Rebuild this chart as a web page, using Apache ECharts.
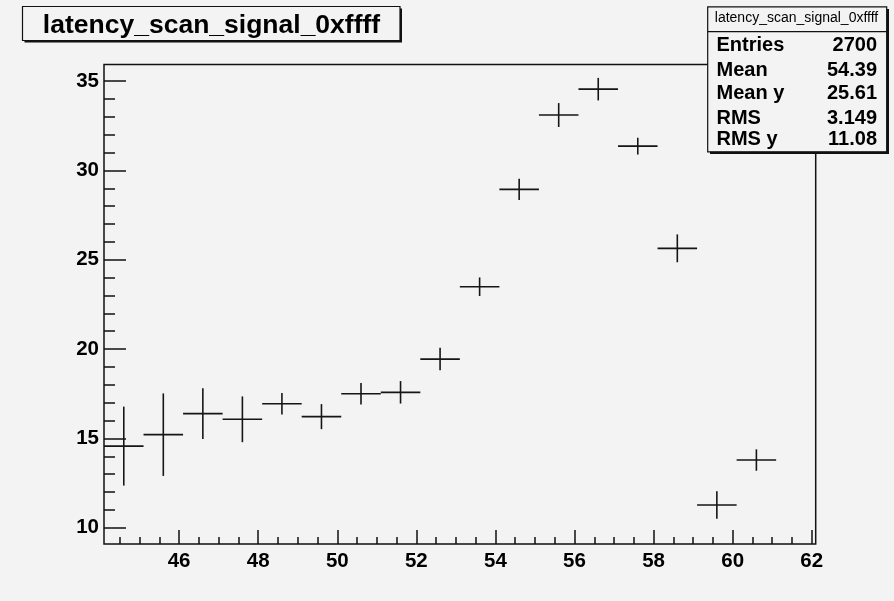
<!DOCTYPE html>
<html>
<head>
<meta charset="utf-8">
<script src="https://cdn.jsdelivr.net/npm/echarts@6/dist/echarts.min.js"></script>
<style>
html,body{margin:0;padding:0;background:#f3f3f3;}
#c{width:894px;height:601px;}
</style>
</head>
<body>
<div id="c"></div>
<script>
var histTitle = 'latency_scan_signal_0xffff';
var binCenters = [44.6,45.6,46.6,47.6,48.6,49.6,50.6,51.6,52.6,53.6,54.6,55.6,56.6,57.6,58.6,59.6,60.6];
var binValues  = [14.57,15.21,16.39,16.07,16.94,16.22,17.50,17.58,19.44,23.49,28.94,33.10,34.55,31.36,25.64,11.27,13.79];
var binErrors  = [2.21,2.31,1.42,1.28,0.60,0.70,0.60,0.63,0.63,0.52,0.60,0.67,0.63,0.47,0.78,0.77,0.60];
var binHalfWidth = 0.5;
var xTickLabels = [46,48,50,52,54,56,58,60,62];
var yTickLabels = [10,15,20,25,30,35];
var statNames  = ['Entries','Mean','Mean y','RMS','RMS y'];
var statValues = ['2700','54.39','25.61','3.149','11.08'];

var xMin = 44.1, xMax = 62.1, yMin = 9.09, yMax = 35.93;
var xMinor = [], yMinor = [];
for (var v = 44.5; v <= 62.0001; v += 0.5) xMinor.push(Math.round(v*10)/10);
for (var w = 10; w <= 35; w += 1) yMinor.push(w);

var dataRows = binCenters.map(function(x,i){ return [x, binValues[i], binErrors[i]]; });

var FONT = '"Liberation Sans", Arial, Helvetica, sans-serif';
var chart = echarts.init(document.getElementById('c'));
var labelStyle = {fontFamily: FONT, fontWeight: 'bold', fontSize: 20.5, color: '#000'};

var statTexts = [];
var statMid = [45.5, 70, 93, 118, 139.5];
statNames.forEach(function(n,i){
  statTexts.push({type:'text', z:12, style:{text:n, x:716.5, y:statMid[i], font:'bold 20px ' + FONT, fill:'#000', textAlign:'left', textVerticalAlign:'middle'}});
  statTexts.push({type:'text', z:12, style:{text:statValues[i], x:877, y:statMid[i], font:'bold 20px ' + FONT, fill:'#000', textAlign:'right', textVerticalAlign:'middle'}});
});

chart.setOption({
  animation: false,
  backgroundColor: '#f3f3f3',
  grid: {left: 104, top: 64.5, width: 711.7, height: 479.5, show: true, borderColor: '#111', borderWidth: 1.5, backgroundColor: '#f3f3f3'},
  xAxis: [
    {type:'value', min:xMin, max:xMax, position:'bottom',
     axisLine:{show:false}, splitLine:{show:false},
     axisTick:{show:true, inside:true, length:14, customValues:xTickLabels, lineStyle:{color:'#111', width:1.5}},
     axisLabel:Object.assign({customValues:xTickLabels, margin:7}, labelStyle)},
    {type:'value', min:xMin, max:xMax, position:'bottom',
     axisLine:{show:false}, splitLine:{show:false},
     axisTick:{show:true, inside:true, length:7, customValues:xMinor, lineStyle:{color:'#111', width:1.5}},
     axisLabel:{show:false}}
  ],
  yAxis: [
    {type:'value', min:yMin, max:yMax, position:'left',
     axisLine:{show:false}, splitLine:{show:false},
     axisTick:{show:true, inside:true, length:22, customValues:yTickLabels, lineStyle:{color:'#111', width:1.5}},
     axisLabel:Object.assign({customValues:yTickLabels, margin:5, padding:[5,0,0,0]}, labelStyle)},
    {type:'value', min:yMin, max:yMax, position:'left',
     axisLine:{show:false}, splitLine:{show:false},
     axisTick:{show:true, inside:true, length:11, customValues:yMinor, lineStyle:{color:'#111', width:1.5}},
     axisLabel:{show:false}}
  ],
  series: [{
    type: 'custom',
    xAxisIndex: 0, yAxisIndex: 0,
    data: dataRows,
    renderItem: function(params, api){
      var x = api.value(0), y = api.value(1), e = api.value(2);
      var l = api.coord([x - binHalfWidth, y]);
      var r = api.coord([x + binHalfWidth, y]);
      var t = api.coord([x, y + e]);
      var b = api.coord([x, y - e]);
      var st = {stroke:'#151515', lineWidth:1.6};
      return {type:'group', children:[
        {type:'line', shape:{x1:l[0], y1:l[1], x2:r[0], y2:r[1]}, style:st},
        {type:'line', shape:{x1:t[0], y1:t[1], x2:b[0], y2:b[1]}, style:st}
      ]};
    }
  }],
  graphic: [
    {type:'rect', z:10, shape:{x:24.5, y:8.5, width:377.5, height:34}, style:{fill:'#111'}},
    {type:'rect', z:11, shape:{x:22.5, y:6.5, width:377.5, height:34}, style:{fill:'#f3f3f3', stroke:'#111', lineWidth:1.2}},
    {type:'text', z:12, style:{text:histTitle, x:211.5, y:25.5, font:'bold 26.5px ' + FONT, fill:'#000', textAlign:'center', textVerticalAlign:'middle'}},
    {type:'rect', z:10, shape:{x:710, y:9, width:179, height:145}, style:{fill:'#111'}},
    {type:'rect', z:11, shape:{x:707.7, y:6.8, width:179, height:145}, style:{fill:'#f3f3f3', stroke:'#111', lineWidth:1.2}},
    {type:'line', z:12, shape:{x1:707.7, y1:31.7, x2:886.7, y2:31.7}, style:{stroke:'#111', lineWidth:1.2}},
    {type:'text', z:12, style:{text:histTitle, x:796.5, y:18.5, font:'14px ' + FONT, fill:'#000', textAlign:'center', textVerticalAlign:'middle'}}
  ].concat(statTexts)
});
</script>
</body>
</html>
